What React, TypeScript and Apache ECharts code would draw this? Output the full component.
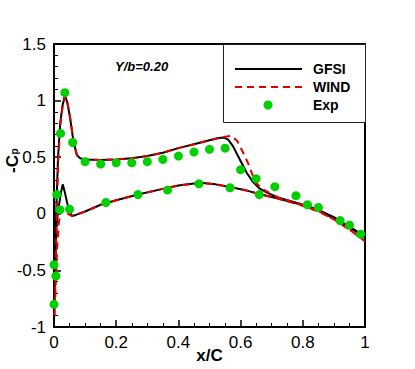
import React, { useEffect, useRef } from "react";
import * as echarts from "echarts";

// GFSI: upper surface (leading edge -> trailing edge)
const gfsiUpper: number[][] = [
  [0.0, -0.95], [0.003, -0.5], [0.007, 0.0], [0.013, 0.5], [0.02, 0.8], [0.027, 0.95],
  [0.035, 1.05], [0.043, 0.98], [0.051, 0.86], [0.062, 0.65], [0.073, 0.52], [0.084, 0.49],
  [0.1, 0.48], [0.15, 0.475], [0.2, 0.48], [0.25, 0.49], [0.3, 0.51], [0.35, 0.54],
  [0.4, 0.58], [0.45, 0.615], [0.5, 0.65], [0.53, 0.67], [0.545, 0.675], [0.56, 0.655],
  [0.575, 0.6], [0.59, 0.52], [0.605, 0.44], [0.62, 0.36], [0.64, 0.28], [0.66, 0.225],
  [0.69, 0.18], [0.72, 0.145], [0.79, 0.09], [0.845, 0.04], [0.9, -0.03], [0.95, -0.115],
  [0.98, -0.165], [1.0, -0.21],
];
// GFSI: lower surface (leading edge -> trailing edge)
const gfsiLower: number[][] = [
  [0.0, -0.95], [0.004, -0.5], [0.008, -0.1], [0.014, 0.04], [0.022, 0.18], [0.028, 0.26],
  [0.034, 0.2], [0.042, 0.1], [0.05, 0.02], [0.058, -0.02], [0.07, -0.01], [0.1, 0.02],
  [0.15, 0.08], [0.2, 0.12], [0.27, 0.17], [0.35, 0.22], [0.4, 0.25], [0.47, 0.275],
  [0.52, 0.26], [0.57, 0.235], [0.62, 0.205], [0.66, 0.175], [0.72, 0.135], [0.79, 0.085],
  [0.845, 0.035], [0.9, -0.04], [0.95, -0.125], [0.98, -0.17], [1.0, -0.215],
];
// WIND: upper surface
const windUpper: number[][] = [
  [0.002, -0.9], [0.005, -0.5], [0.009, 0.0], [0.014, 0.5], [0.021, 0.8], [0.028, 0.95],
  [0.036, 1.04], [0.044, 0.97], [0.052, 0.85], [0.063, 0.64], [0.074, 0.52], [0.085, 0.49],
  [0.1, 0.48], [0.15, 0.475], [0.2, 0.48], [0.25, 0.49], [0.3, 0.51], [0.35, 0.54],
  [0.4, 0.58], [0.45, 0.615], [0.5, 0.65], [0.53, 0.67], [0.55, 0.68], [0.57, 0.69],
  [0.59, 0.64], [0.61, 0.53], [0.625, 0.44], [0.64, 0.33], [0.655, 0.26], [0.67, 0.22],
  [0.7, 0.175], [0.72, 0.145], [0.79, 0.085], [0.85, 0.025], [0.9, -0.05], [0.95, -0.14],
  [0.98, -0.2], [1.0, -0.245],
];
// WIND: lower surface
const windLower: number[][] = [
  [0.002, -0.9], [0.006, -0.6], [0.01, -0.3], [0.015, -0.1], [0.02, 0.03], [0.03, 0.04],
  [0.045, 0.0], [0.058, -0.02], [0.07, -0.01], [0.1, 0.02], [0.15, 0.08], [0.2, 0.12],
  [0.27, 0.17], [0.35, 0.22], [0.4, 0.25], [0.47, 0.275], [0.52, 0.26], [0.57, 0.235],
  [0.62, 0.205], [0.66, 0.175], [0.72, 0.135], [0.79, 0.08], [0.85, 0.02], [0.9, -0.05],
  [0.95, -0.14], [0.98, -0.2], [1.0, -0.245],
];
// Experiment
const expPoints: number[][] = [
  [0.0, -0.8], [0.0, -0.45], [0.006, -0.55], [0.009, 0.17], [0.019, 0.035], [0.05, 0.04],
  [0.021, 0.71], [0.035, 1.07], [0.06, 0.63], [0.1, 0.46], [0.15, 0.44], [0.2, 0.45],
  [0.25, 0.45], [0.3, 0.46], [0.35, 0.48], [0.4, 0.51], [0.45, 0.545], [0.5, 0.57],
  [0.55, 0.58], [0.6, 0.39], [0.65, 0.31], [0.71, 0.24], [0.778, 0.16], [0.815, 0.08],
  [0.85, 0.056], [0.92, -0.06], [0.95, -0.1], [0.986, -0.18],
  [0.167, 0.1], [0.27, 0.17], [0.365, 0.21], [0.466, 0.265], [0.566, 0.23], [0.66, 0.17],
];
const seriesNames = ["GFSI", "WIND", "Exp"];
const caseLabel = "Y/b=0.20";

const FONT = "'Liberation Sans', Arial, Helvetica, sans-serif";
const BLACK = "#000000";
const RED = "#e00000";
const GREEN = "#00d000";

function loop(upper: number[][], lower: number[][]): number[][] {
  return [...upper.slice().reverse(), ...lower.slice(1)];
}

export default function App() {
  const ref = useRef<HTMLDivElement>(null);
  useEffect(() => {
    if (!ref.current) return;
    const chart = echarts.init(ref.current, undefined, { renderer: "svg" });
    const axisCommon = {
      axisLine: { show: true, onZero: false, lineStyle: { color: BLACK, width: 2 } },
      axisTick: { show: true, inside: true, length: 7, lineStyle: { color: BLACK, width: 1.5 } },
      minorTick: { show: true, length: 4, lineStyle: { color: BLACK, width: 1 } },
      splitLine: { show: false },
      minorSplitLine: { show: false },
      axisLabel: { color: BLACK, fontSize: 17, fontFamily: FONT },
    };
    chart.setOption({
      animation: false,
      backgroundColor: "#ffffff",
      grid: {
        left: 54, right: 50, top: 44, bottom: 42,
        outerBoundsMode: "none", containLabel: false,
        show: true, borderColor: BLACK, borderWidth: 2, backgroundColor: "transparent",
      },
      xAxis: {
        type: "value", min: 0, max: 1, interval: 0.2,
        ...axisCommon,
        minorTick: { ...axisCommon.minorTick, splitNumber: 4 },
        axisLabel: { ...axisCommon.axisLabel, margin: 7 },
        name: "x/C", nameLocation: "middle", nameGap: 20, nameMoveOverlap: false,
        nameTextStyle: { color: BLACK, fontSize: 17, fontWeight: "bold", fontFamily: FONT },
      },
      yAxis: {
        type: "value", min: -1, max: 1.5, interval: 0.5,
        ...axisCommon,
        minorTick: { ...axisCommon.minorTick, splitNumber: 5 },
        axisLabel: { ...axisCommon.axisLabel, margin: 8 },
      },
      series: [
        {
          name: seriesNames[0], type: "line", data: loop(gfsiUpper, gfsiLower),
          symbol: "none", showSymbol: false, smooth: false,
          lineStyle: { color: BLACK, width: 2 }, z: 2,
        },
        {
          name: seriesNames[1], type: "line", data: loop(windUpper, windLower),
          symbol: "none", showSymbol: false, smooth: false,
          lineStyle: { color: RED, width: 2, type: [7, 5] }, z: 3,
        },
        {
          name: seriesNames[2], type: "scatter", data: expPoints,
          symbol: "circle", symbolSize: 9, itemStyle: { color: GREEN, opacity: 1 }, z: 4,
        },
      ],
      graphic: [
        {
          type: "rect", left: 223, top: 44, z: 10,
          shape: { width: 142, height: 78 },
          style: { fill: "#ffffff", stroke: "#222222", lineWidth: 1 },
        },
        {
          type: "line", z: 11, shape: { x1: 235, y1: 69, x2: 302, y2: 69 },
          style: { stroke: BLACK, lineWidth: 2 },
        },
        {
          type: "line", z: 11, shape: { x1: 235, y1: 87, x2: 302, y2: 87 },
          style: { stroke: RED, lineWidth: 2, lineDash: [7, 5] },
        },
        {
          type: "circle", z: 11, shape: { cx: 268, cy: 105, r: 4.5 },
          style: { fill: GREEN },
        },
        ...seriesNames.map((n, i) => ({
          type: "text", z: 11, x: 313, y: 69 + i * 18,
          style: {
            text: n, fill: BLACK, fontSize: 14, fontWeight: "bold", fontFamily: FONT,
            verticalAlign: "middle", align: "left",
          },
        })),
        {
          type: "text", x: 115, y: 66, z: 11,
          style: {
            text: caseLabel, fill: BLACK, fontSize: 13, fontWeight: "bold", fontStyle: "italic",
            fontFamily: FONT, verticalAlign: "middle", align: "left",
          },
        },
        {
          type: "group", x: 12, y: 173, rotation: Math.PI / 2, z: 11,
          children: [
            {
              type: "text", x: 0, y: 0,
              style: {
                text: "-C", fill: BLACK, fontSize: 17, fontWeight: "bold", fontFamily: FONT,
                verticalAlign: "middle", align: "left",
              },
            },
            {
              type: "text", x: 18.5, y: 2,
              style: {
                text: "p", fill: BLACK, fontSize: 10, fontWeight: "bold", fontFamily: FONT,
                verticalAlign: "middle", align: "left",
              },
            },
          ],
        },
      ],
    });
    return () => chart.dispose();
  }, []);
  return (
    <div
      ref={ref}
      style={{ position: "fixed", left: 0, top: 0, width: 415, height: 369 }}
    />
  );
}
